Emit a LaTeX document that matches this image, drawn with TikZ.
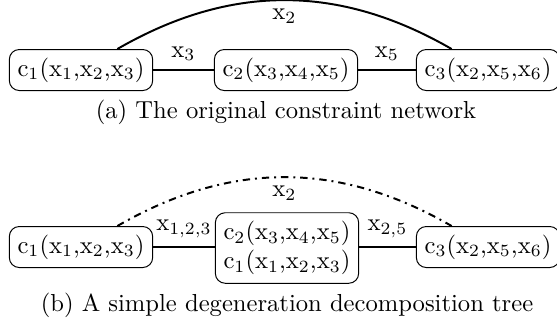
\documentclass[tikz,border=0pt]{standalone}
\begin{document}
\begin{tikzpicture}[x=0.4065pt,y=-0.4065pt,
  box/.style={draw,rounded corners=4pt,align=center},
  link/.style={thick},
  dlink/.style={thick,dash dot}]
\useasboundingbox (0,0) rectangle (557,327);
% (a)
\node[box] (a1) at (81,70) {c$_1$(x$_1$,x$_2$,x$_3$)};
\node[box] (a2) at (286,70) {c$_2$(x$_3$,x$_4$,x$_5$)};
\node[box] (a3) at (488,70) {c$_3$(x$_2$,x$_5$,x$_6$)};
\draw[link] (a1) -- node[above]{x$_3$} (a2);
\draw[link] (a2) -- node[above]{x$_5$} (a3);
\draw[link] (a1) to[bend left=30] node[below]{x$_2$} (a3);
\node (capa) at (286,112) {(a) The original constraint network};
% (b)
\node[box] (b1) at (81,247) {c$_1$(x$_1$,x$_2$,x$_3$)};
\node[box] (b2) at (287,248) {c$_2$(x$_3$,x$_4$,x$_5$)\\c$_1$(x$_1$,x$_2$,x$_3$)};
\node[box] (b3) at (488,247) {c$_3$(x$_2$,x$_5$,x$_6$)};
\draw[link] (b1) -- node[above]{x$_{1,2,3}$} (b1 -| b2.west);
\draw[link] (b3 -| b2.east) -- node[above]{x$_{2,5}$} (b3);
\draw[dlink] (b1) to[bend left=30] node[below]{x$_2$} (b3);
\node (capb) at (287,305) {(b) A simple degeneration decomposition tree};
\end{tikzpicture}
\end{document}
